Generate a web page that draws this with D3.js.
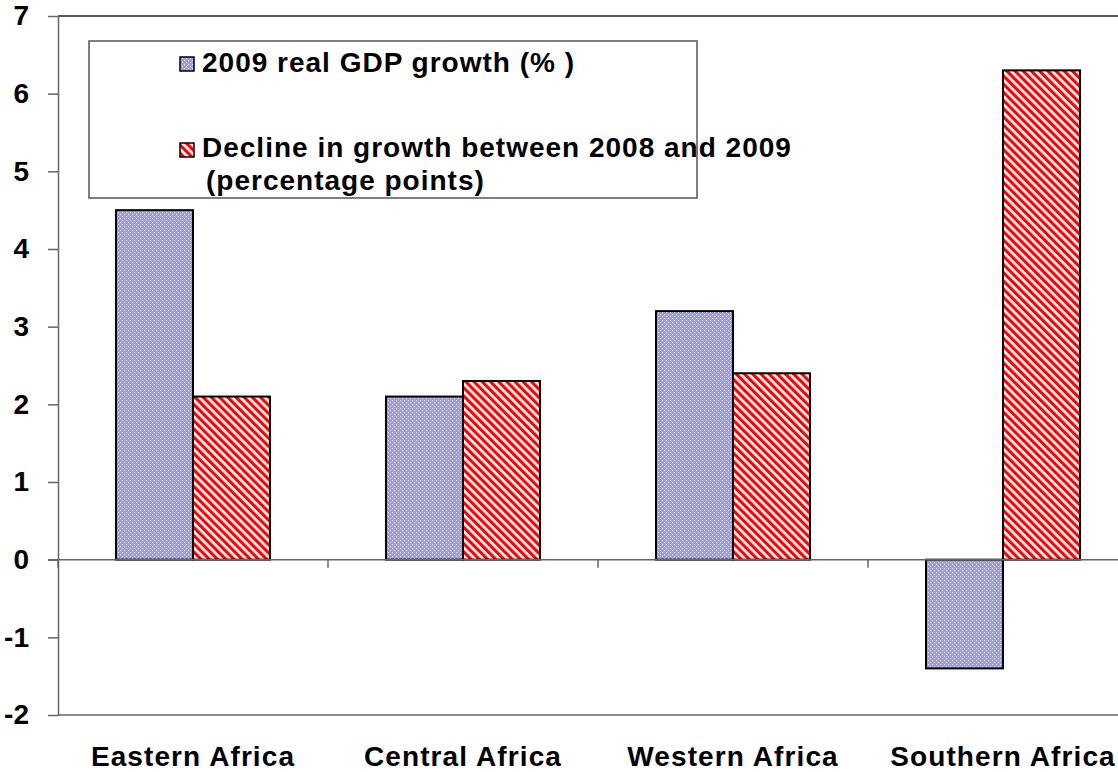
<!DOCTYPE html>
<html>
<head>
<meta charset="utf-8">
<script src="https://cdn.jsdelivr.net/npm/d3@7"></script>
<style>
  body { margin: 0; background: #fff; }
  svg { display: block; font-family: Arial, "Liberation Sans", sans-serif; }
</style>
</head>
<body>
<div id="chart"></div>
<script>
var categories = ['Eastern Africa', 'Central Africa', 'Western Africa', 'Southern Africa'];
var seriesNames = ['2009 real GDP growth (% )', 'Decline in growth between 2008 and 2009', '(percentage points)'];
var gdpGrowth = [4.5, 2.1, 3.2, -1.4];
var growthDecline = [2.1, 2.3, 2.4, 6.3];
var yTicks = [-2, -1, 0, 1, 2, 3, 4, 5, 6, 7];

var width = 1118, height = 772;
var plot = { left: 58, right: 1138, top: 16, bottom: 715 };
var fontSize = 28;

var svg = d3.select('#chart').append('svg')
    .attr('width', width)
    .attr('height', height);

// patterns
var defs = svg.append('defs');
var dots = defs.append('pattern')
    .attr('id', 'dots')
    .attr('patternUnits', 'userSpaceOnUse')
    .attr('width', 4)
    .attr('height', 4);
dots.append('rect').attr('width', 4).attr('height', 4).attr('fill', '#9999ff');
dots.append('rect').attr('x', 0).attr('y', 0).attr('width', 1).attr('height', 1).attr('fill', '#eeeeff');
dots.append('rect').attr('x', 2).attr('y', 2).attr('width', 1).attr('height', 1).attr('fill', '#eeeeff');

var hatch = defs.append('pattern')
    .attr('id', 'hatch')
    .attr('patternUnits', 'userSpaceOnUse')
    .attr('width', 5.8)
    .attr('height', 5.8)
    .attr('patternTransform', 'rotate(-45)');
hatch.append('rect').attr('width', 5.8).attr('height', 5.8).attr('fill', '#fff');
hatch.append('rect').attr('width', 3.2).attr('height', 5.8).attr('fill', '#ff0000');

var fills = ['url(#dots)', 'url(#hatch)'];

var x0 = d3.scaleBand()
    .domain(categories)
    .range([plot.left, plot.right])
    .paddingInner(0)
    .paddingOuter(0);

var x1 = d3.scaleBand()
    .domain([0, 1])
    .range([0, x0.bandwidth()])
    .paddingInner(0)
    .paddingOuter(0.753);

var y = d3.scaleLinear()
    .domain([-2, 7])
    .range([plot.bottom, plot.top]);

// plot border top and bottom
svg.append('line')
    .attr('x1', plot.left).attr('x2', plot.right)
    .attr('y1', y(7)).attr('y2', y(7))
    .attr('stroke', '#222').attr('stroke-width', 1.5);
svg.append('line')
    .attr('x1', plot.left).attr('x2', plot.right)
    .attr('y1', y(-2)).attr('y2', y(-2))
    .attr('stroke', '#666').attr('stroke-width', 1.5);

// value axis
var yAxis = svg.append('g')
    .attr('transform', 'translate(' + plot.left + ',0)')
    .call(d3.axisLeft(y)
        .tickValues(yTicks)
        .tickFormat(function(d) { return String(d); })
        .tickSize(10).tickPadding(19).tickSizeOuter(0));
yAxis.select('.domain').attr('stroke', '#666').attr('stroke-width', 1.5);
yAxis.selectAll('.tick line').attr('stroke', '#666').attr('stroke-width', 1.5);
yAxis.selectAll('.tick text')
    .attr('font-size', fontSize)
    .attr('font-weight', 'bold')
    .attr('fill', '#000')
    .attr('font-family', 'Arial, "Liberation Sans", sans-serif');

// bars
var groups = svg.append('g').selectAll('g')
    .data(categories)
    .join('g')
    .attr('transform', function(d) { return 'translate(' + x0(d) + ',0)'; });

groups.selectAll('rect')
    .data(function(d, i) { return [gdpGrowth[i], growthDecline[i]]; })
    .join('rect')
    .attr('x', function(d, j) { return x1(j); })
    .attr('width', x1.bandwidth())
    .attr('y', function(d) { return y(Math.max(0, d)); })
    .attr('height', function(d) { return Math.abs(y(d) - y(0)); })
    .attr('fill', function(d, j) { return fills[j]; })
    .attr('stroke', '#000')
    .attr('stroke-width', 2);

// category axis at zero
svg.append('line')
    .attr('x1', plot.left - 10).attr('x2', plot.right)
    .attr('y1', y(0)).attr('y2', y(0))
    .attr('stroke', '#666').attr('stroke-width', 1.5);
svg.append('g').selectAll('line')
    .data(categories)
    .join('line')
    .attr('x1', function(d) { return x0(d); })
    .attr('x2', function(d) { return x0(d); })
    .attr('y1', y(0))
    .attr('y2', y(0) + 8)
    .attr('stroke', '#666').attr('stroke-width', 1.5);

svg.append('g').selectAll('text')
    .data(categories)
    .join('text')
    .attr('x', function(d) { return x0(d) + x0.bandwidth() / 2; })
    .attr('y', 766)
    .attr('text-anchor', 'middle')
    .attr('font-size', fontSize)
    .attr('font-weight', 'bold')
    .attr('letter-spacing', 1.1)
    .text(function(d) { return d; });

// legend
var legend = svg.append('g');
legend.append('rect')
    .attr('x', 89).attr('y', 41)
    .attr('width', 608).attr('height', 157)
    .attr('fill', '#fff')
    .attr('stroke', '#555').attr('stroke-width', 1.5);

legend.append('rect')
    .attr('x', 180).attr('y', 57).attr('width', 14).attr('height', 14)
    .attr('fill', fills[0]).attr('stroke', '#000').attr('stroke-width', 1.5);
legend.append('text')
    .attr('x', 202).attr('y', 72)
    .attr('font-size', fontSize).attr('font-weight', 'bold')
    .attr('letter-spacing', 1)
    .text(seriesNames[0]);

legend.append('rect')
    .attr('x', 180).attr('y', 143).attr('width', 14).attr('height', 14)
    .attr('fill', fills[1]).attr('stroke', '#000').attr('stroke-width', 1.5);
var t2 = legend.append('text')
    .attr('x', 202).attr('y', 157)
    .attr('font-size', fontSize).attr('font-weight', 'bold')
    .attr('letter-spacing', 1);
t2.append('tspan').attr('x', 202).text(seriesNames[1]);
t2.append('tspan').attr('x', 206).attr('dy', 33).text(seriesNames[2]);
</script>
</body>
</html>
